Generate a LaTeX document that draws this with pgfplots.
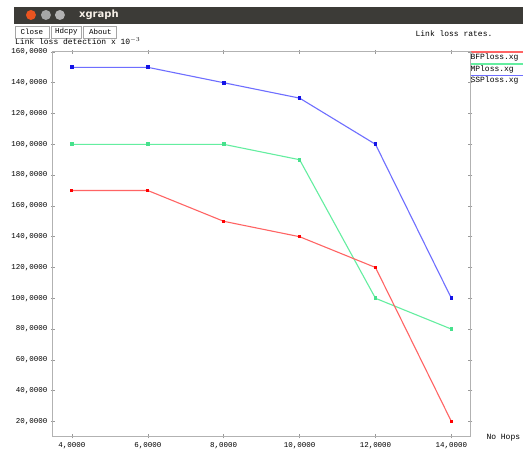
\documentclass[border=0pt]{standalone}
\usepackage{fontspec}
\usepackage{pgfplots}
\pgfplotsset{compat=1.18}
\setmainfont{Liberation Mono}
\newfontfamily\sans{DejaVu Sans}
\definecolor{lblue}{RGB}{110,110,255}
\definecolor{dblue}{RGB}{20,20,230}
\definecolor{lgreen}{RGB}{100,238,160}
\definecolor{mgreen}{RGB}{70,225,140}
\definecolor{lred}{RGB}{255,100,100}
\definecolor{bar}{RGB}{60,59,55}
\definecolor{closeb}{RGB}{233,84,32}
\begin{document}
\begin{tikzpicture}[x=1pt,y=1pt]
\fill[white] (0,0) rectangle (524,450);
% window chrome
\fill[bar] (14,426) rectangle (524,443);
\fill[closeb] (31,435) circle (5pt);
\fill[gray!70] (46,435) circle (5pt);
\fill[gray!60] (60,435) circle (5pt);
\node[anchor=west,font=\sans\bfseries\fontsize{10}{10}\selectfont,text=white!88!brown,inner sep=0] at (79,435) {xgraph};
\draw[gray!70,line width=0.8pt] (15,412) rectangle (49,424);
\draw[gray!70,line width=0.8pt] (51,412) rectangle (82,424);
\draw[gray!70,line width=0.8pt] (84,412) rectangle (117,424);
\node[font=\fontsize{7.5}{7.5}\selectfont,inner sep=0] at (32,418) {Close};
\node[font=\fontsize{7.5}{7.5}\selectfont,inner sep=0] at (66.5,418) {Hdcpy};
\node[font=\fontsize{7.5}{7.5}\selectfont,inner sep=0] at (100.5,418) {About};
\node[anchor=west,font=\fontsize{8}{8}\selectfont,inner sep=0] at (15,408.5) {Link loss detection x 10$^{-3}$};
\node[anchor=west,font=\fontsize{8}{8}\selectfont,inner sep=0] at (416,416) {Link loss rates.};
% legend
\draw[lred,line width=1.4pt] (471,398) -- (524,398);
\draw[lgreen,line width=1.4pt] (471,386) -- (524,386);
\draw[lblue,line width=1.4pt] (471,374.5) -- (524,374.5);
\node[anchor=west,font=\fontsize{8}{8}\selectfont,inner sep=0] at (471,392.5) {BFPloss.xg};
\node[anchor=west,font=\fontsize{8}{8}\selectfont,inner sep=0] at (471,380.5) {MPloss.xg};
\node[anchor=west,font=\fontsize{8}{8}\selectfont,inner sep=0] at (471,369) {SSPloss.xg};
\node[anchor=west,font=\fontsize{8}{8}\selectfont,inner sep=0] at (487,12) {No Hops};
\begin{axis}[
  at={(53pt,13pt)}, anchor=south west,
  width=418pt, height=385pt, scale only axis,
  xmin=3.5, xmax=14.5, ymin=10.3, ymax=260,
  xtick={4,6,8,10,12,14},
  ytick={20,40,60,80,100,120,140,160,180,200,220,240,260},
  xticklabels={{4,0000},{6,0000},{8,0000},{10,0000},{12,0000},{14,0000}},
  yticklabels={{20,0000},{40,0000},{60,0000},{80,0000},{100,0000},{120,0000},{140,0000},{160,0000},{180,0000},{100,0000},{120,0000},{140,0000},{160,0000}},
  tick label style={font=\fontsize{7.5}{7.5}\selectfont},
  xticklabel style={yshift=-1pt},
  tick align=center, major tick length=4pt,
  every tick/.style={gray!80, line width=0.6pt},
  axis line style={gray!60, line width=1pt},
  clip=false,
]
\addplot[lblue, line width=1.1pt, mark=square*, mark size=1.3pt, mark options={dblue}] coordinates {(4,250) (6,250) (8,240) (10,230) (12,200) (14,100)};
\addplot[lgreen, line width=1.1pt, mark=square*, mark size=1.3pt, mark options={mgreen}] coordinates {(4,200) (6,200) (8,200) (10,190) (12,100) (14,80)};
\addplot[lred, line width=1.1pt, mark=square*, mark size=1pt, mark options={red}] coordinates {(4,170) (6,170) (8,150) (10,140) (12,120) (14,20)};
\end{axis}
\end{tikzpicture}
\end{document}
